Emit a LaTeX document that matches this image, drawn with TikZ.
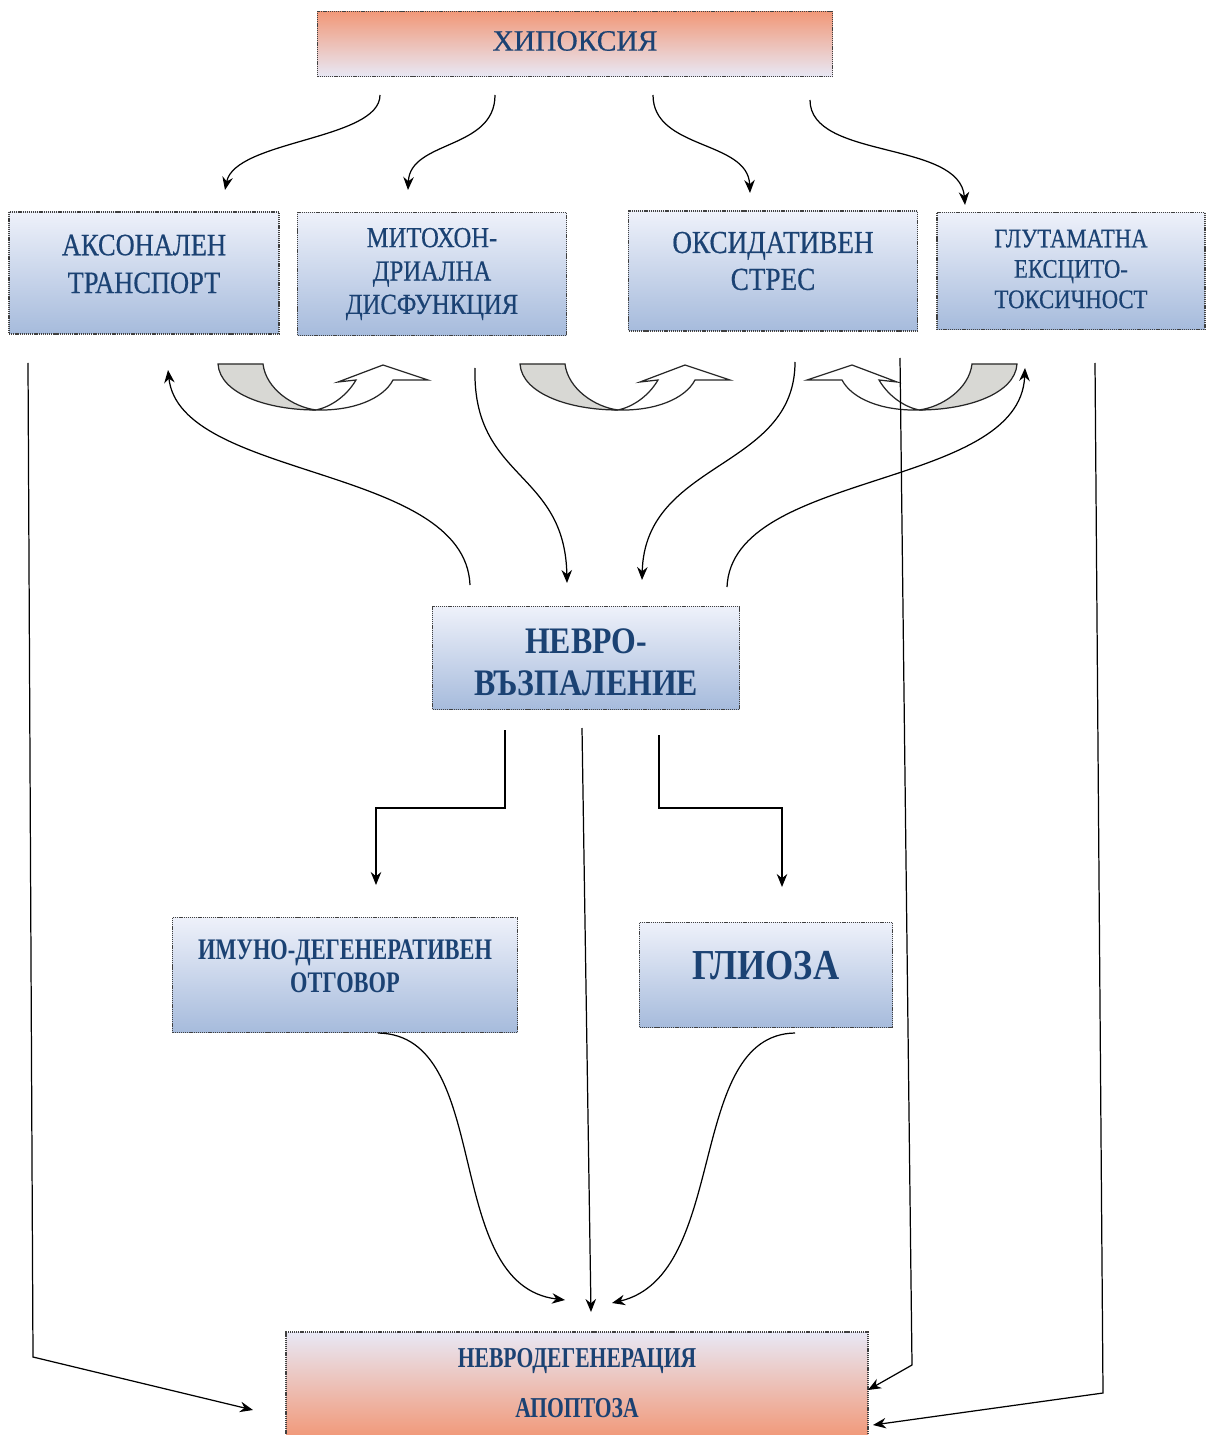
\documentclass[tikz,border=0pt]{standalone}
\usepackage{fontspec}
\setmainfont{Liberation Serif}
\newfontfamily\widefont{Liberation Serif}[FakeBold=0.5]
\newfontfamily\narrowfont{Liberation Serif}[FakeStretch=0.85, FakeBold=0.5]
\newfontfamily\boldnarrow{Liberation Serif Bold}[FakeStretch=0.85]
\newfontfamily\tightfont{Liberation Serif Bold}[FakeStretch=0.75]
\usetikzlibrary{arrows.meta, positioning, calc}
\definecolor{textblue}{RGB}{27, 66, 115}
\definecolor{boxtop}{RGB}{238, 241, 250}
\definecolor{boxbottom}{RGB}{166, 187, 220}
\definecolor{salmon}{RGB}{241, 152, 120}
\definecolor{lavender}{RGB}{232, 232, 245}
\definecolor{foldgray}{RGB}{216, 216, 212}

\tikzset{
  cellbox/.style 2 args={rectangle, draw=black!75, line width=1.1pt,
    dash pattern=on 0.7pt off 0.5pt, inner sep=0pt,
    minimum width=#1*0.02cm, minimum height=#2*0.02cm},
  bluebox/.style={top color=boxtop, bottom color=boxbottom},
  txt/.style={text=textblue, align=center, inner sep=0pt},
  flow/.style={line width=0.7pt, -{Stealth[length=2.6mm, width=2.1mm]}},
  uturn/.pic={
    \filldraw[fill=foldgray, draw=black!85, line width=0.7pt]
      (0,0) -- (45,0) .. controls (48,25) and (75,43) .. (98,46)
      .. controls (50,46) and (2,30) .. (0,0) -- cycle;
    \filldraw[fill=white, draw=black!85, line width=0.7pt]
      (98,46) .. controls (135,47) and (165,35) .. (175,16) -- (210,16)
      -- (165,1) -- (120,18) -- (138,16)
      .. controls (128,33) and (112,43) .. (98,46) -- cycle;
  }
}

\begin{document}
\begin{tikzpicture}[x=0.02cm, y=-0.02cm]
  \useasboundingbox (0,0) rectangle (1206,1435);

  % Boxes
  \node[cellbox={515}{65}, top color=salmon, bottom color=lavender] (hyp) at (575,44) {};
  \node[cellbox={270}{122}, bluebox] (akson) at (144,273) {};
  \node[cellbox={269}{123}, bluebox] (mito) at (432,274) {};
  \node[cellbox={289}{120}, bluebox] (oksid) at (773,271) {};
  \node[cellbox={268}{117}, bluebox] (glut) at (1071,271) {};
  \node[cellbox={307}{103}, bluebox] (nevro) at (586,658) {};
  \node[cellbox={345}{115}, bluebox] (imuno) at (345,975) {};
  \node[cellbox={253}{105}, bluebox] (glioza) at (766,975) {};
  \node[cellbox={582}{106}, top color=lavender, bottom color=salmon] (apopt) at (577,1385) {};

  % Texts
  \node[txt, font=\widefont\fontsize{16.8}{19}\selectfont] (hyp-t) at ($(hyp)+(0,-3)$) {ХИПОКСИЯ};
  \node[txt, font=\narrowfont\fontsize{17.7}{21.5}\selectfont] (akson-t) at ($(akson)+(0,-9)$) {АКСОНАЛЕН\\ТРАНСПОРТ};
  \node[txt, font=\narrowfont\fontsize{16.5}{19}\selectfont] (mito-t) at (mito) {МИТОХОН-\\ДРИАЛНА\\ДИСФУНКЦИЯ};
  \node[txt, font=\narrowfont\fontsize{18.2}{21}\selectfont] (oksid-t) at ($(oksid)+(0,-10)$) {ОКСИДАТИВЕН\\СТРЕС};
  \node[txt, font=\narrowfont\fontsize{15.2}{17.3}\selectfont] (glut-t) at ($(glut)+(0,-2)$) {ГЛУТАМАТНА\\ЕКСЦИТО-\\ТОКСИЧНОСТ};
  \node[txt, font=\boldnarrow\fontsize{21.3}{23.8}\selectfont] (nevro-t) at ($(nevro)+(0,4)$) {НЕВРО-\\ВЪЗПАЛЕНИЕ};
  \node[txt, font=\tightfont\fontsize{17}{18.7}\selectfont] (imuno-t) at ($(imuno)+(0,-9)$) {ИМУНО-ДЕГЕНЕРАТИВЕН\\ОТГОВОР};
  \node[txt, font=\boldnarrow\fontsize{24.3}{26}\selectfont] (glioza-t) at ($(glioza)+(0,-9)$) {ГЛИОЗА};
  \node[txt, font=\tightfont\fontsize{16.4}{28.4}\selectfont] (apopt-t) at ($(apopt)+(0,-2)$) {НЕВРОДЕГЕНЕРАЦИЯ\\АПОПТОЗА};

  % Free ends of the connectors
  \foreach \n/\x/\y in {h1/380/95, h2/495/95, h3/653/95, h4/810/100,
      a1/225/190, a2/408/190, a3/750/193, a4/965/205,
      l1/28/363, l2/33/1357, l3/253/1410,
      r1/1095/363, r2/1103/1393, r3/873/1425,
      m1/900/358, m2/912/1365, m3/868/1390,
      u1/470/585, u2/168/370, u3/475/368, u4/567/583,
      u5/795/362, u6/642/580, u7/727/587, u8/1025/368,
      d1/505/730, d2/376/885, d3/659/735, d4/782/887,
      d5/582/728, d6/591/1312,
      c1/378/1033, c2/565/1300, c3/795/1033, c4/612/1303}
    \coordinate (\n) at (\x,\y);

  % From hypoxia
  \draw[flow] (h1) .. controls (380,140) and (235,140) .. (a1);
  \draw[flow] (h2) .. controls (495,150) and (410,140) .. (a2);
  \draw[flow] (h3) .. controls (653,150) and (748,140) .. (a3);
  \draw[flow] (h4) .. controls (810,160) and (960,140) .. (a4);

  % Block u-turn arrows
  \pic at (218,364) {uturn};
  \pic at (520,364) {uturn};
  \pic[xscale=-1] at (1017,364) {uturn};

  % Long lines to neurodegeneration
  \draw[flow] (l1) -- (l2) -- (l3);
  \draw[flow] (r1) -- (r2) -- (r3);
  \draw[flow] (m1) -- (m2) -- (m3);

  % Between the row and neuroinflammation
  \draw[flow] (u1) .. controls (465,465) and (180,480) .. (u2);
  \draw[flow] (u3) .. controls (472,480) and (565,470) .. (u4);
  \draw[flow] (u5) .. controls (795,470) and (645,460) .. (u6);
  \draw[flow] (u7) .. controls (732,470) and (1020,490) .. (u8);

  % From neuroinflammation down
  \draw[flow] (d1) -- (505,808) -- (376,808) -- (d2);
  \draw[flow] (d3) -- (659,808) -- (782,808) -- (d4);
  \draw[flow] (d5) -- (d6);
  \draw[flow] (c1) .. controls (495,1035) and (440,1285) .. (c2);
  \draw[flow] (c3) .. controls (685,1035) and (730,1275) .. (c4);
\end{tikzpicture}
\end{document}
